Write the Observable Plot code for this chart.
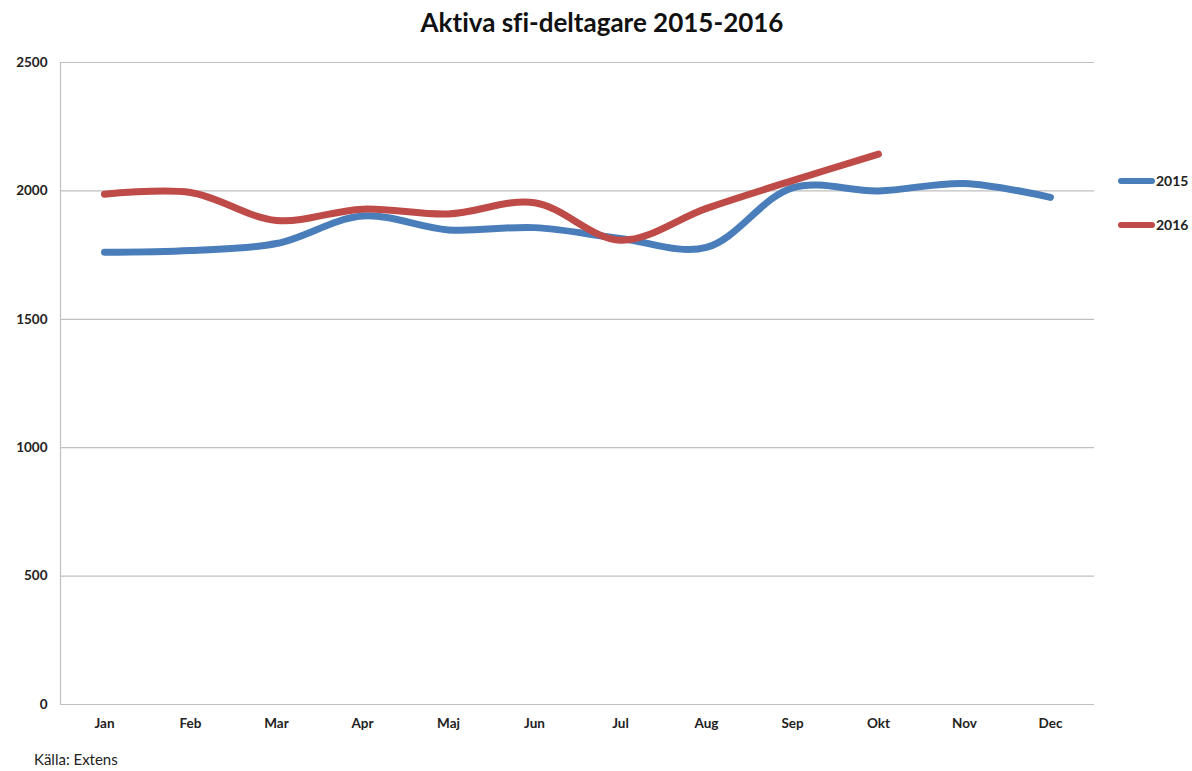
<!DOCTYPE html>
<html>
<head>
<meta charset="utf-8">
<script src="https://cdn.jsdelivr.net/npm/d3@7"></script>
<script src="https://cdn.jsdelivr.net/npm/@observablehq/plot@0.6"></script>
<style>
  html, body { margin: 0; padding: 0; background: #fff; }
  body { width: 1192px; height: 771px; position: relative; overflow: hidden; font-family: Lato, "Open Sans", sans-serif; font-variant-ligatures: none; }
  svg text { font-variant-ligatures: none; }
  #title { position: absolute; left: 0; top: 0; width: 1204px; height: 45px; line-height: 45px; text-align: center; font-weight: bold; font-size: 26px; color: #111; }
  #chart { position: absolute; left: 0; top: 45px; }
  #caption { position: absolute; left: 34px; top: 750px; font-size: 15px; color: #222; }
  .leg { position: absolute; left: 1118px; font-size: 14px; font-weight: bold; color: #222; display: flex; align-items: center; }
  .leg span.sw { display: inline-block; width: 37px; height: 6px; border-radius: 3px; margin-right: 1px; }
</style>
</head>
<body>
<div id="title">Aktiva sfi-deltagare 2015-2016</div>
<div id="chart"></div>
<div id="legend"></div>
<div id="caption">Källa: Extens</div>
<script>
const months = ["Jan","Feb","Mar","Apr","Maj","Jun","Jul","Aug","Sep","Okt","Nov","Dec"];
const values2015 = [1761, 1768, 1795, 1902, 1848, 1857, 1815, 1780, 2012, 2000, 2029, 1975];
const values2016 = [1987, 1994, 1885, 1929, 1910, 1954, 1808, 1932, 2040, 2143];
const seriesNames = ["2015", "2016"];
const seriesColors = ["#4A7EBB", "#BE4B48"];
const yTicks = [0, 500, 1000, 1500, 2000, 2500];

const rows = [];
values2015.forEach((v, i) => rows.push({month: months[i], value: v, series: seriesNames[0]}));
values2016.forEach((v, i) => rows.push({month: months[i], value: v, series: seriesNames[1]}));

const plot = Plot.plot({
  width: 1192,
  height: 726,
  marginTop: 17,
  marginBottom: 67,
  marginLeft: 60,
  marginRight: 98,
  style: { fontFamily: "Lato, 'Open Sans', sans-serif", fontSize: "13.5px", fontWeight: "bold", color: "#222", background: "#fff" },
  x: { type: "point", domain: months, padding: 0.5, label: null },
  y: { domain: [0, 2500], label: null },
  color: { domain: seriesNames, range: seriesColors },
  marks: [
    Plot.ruleY(yTicks.filter(d => d > 0), { stroke: "#bfbfbf", strokeWidth: 1.2 }),
    Plot.ruleY([0], { stroke: "#bfbfbf", strokeWidth: 1.2 }),
    Plot.axisY({ ticks: yTicks, tickSize: 0, tickPadding: 13, tickFormat: d => String(d), fontWeight: "bold" }),
    Plot.axisX({ tickSize: 0, tickPadding: 14, fontWeight: "bold" }),
    Plot.line(rows, { x: "month", y: "value", z: "series", stroke: "series", strokeWidth: 7, curve: "catmull-rom", strokeLinecap: "round", strokeLinejoin: "round" })
  ]
});
document.getElementById("chart").appendChild(plot);
const svg = d3.select(plot);
const ys = plot.scale("y");
svg.append("line")
  .attr("x1", 60.5).attr("x2", 60.5)
  .attr("y1", ys.apply(2500)).attr("y2", ys.apply(0))
  .attr("stroke", "#bfbfbf").attr("stroke-width", 1.2);

const legendTops = [172, 216];
const legend = document.getElementById("legend");
seriesNames.forEach((name, i) => {
  const d = document.createElement("div");
  d.className = "leg";
  d.style.top = legendTops[i] + "px";
  d.innerHTML = `<span class="sw" style="background:${seriesColors[i]}"></span>${name}`;
  legend.appendChild(d);
});
</script>
</body>
</html>
